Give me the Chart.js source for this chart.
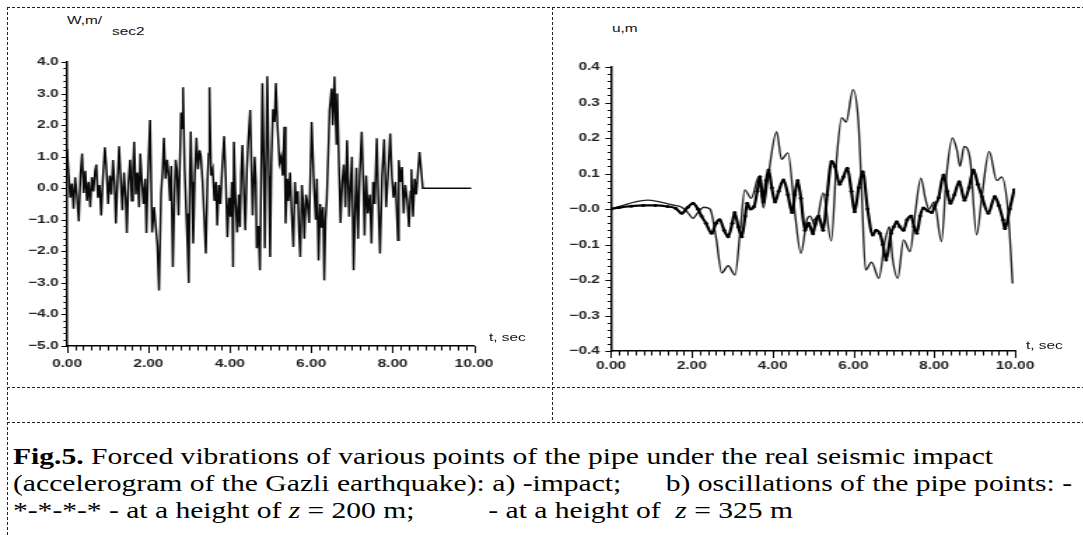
<!DOCTYPE html>
<html><head><meta charset="utf-8">
<script src="https://cdn.jsdelivr.net/npm/chart.js@4.4.1/dist/chart.umd.min.js"></script>
<style>
html,body{margin:0;padding:0;background:#fff;}
body{width:1083px;height:535px;position:relative;overflow:hidden;font-family:"Liberation Sans",Arial,sans-serif;}
.hl{position:absolute;height:1px;background:repeating-linear-gradient(to right,#222 0 3px,transparent 3px 5px);}
.vl{position:absolute;width:1px;background:repeating-linear-gradient(to bottom,#222 0 3px,transparent 3px 5px);}
.wrap{position:absolute;transform-origin:0 0;transform:scaleX(1.4);}
.wrap canvas{display:block;}
.lbl{position:absolute;transform-origin:0 0;transform:scaleX(1.4);white-space:nowrap;color:#111;font-size:11px;line-height:12px;}
.cap{position:absolute;left:13px;white-space:pre;font-family:"Liberation Serif","Times New Roman",serif;font-size:23px;line-height:27px;color:#000;transform-origin:0 0;}
</style></head>
<body>
<div class="hl" style="left:7px;top:7px;width:1076px;"></div>
<div class="hl" style="left:7px;top:387px;width:1076px;"></div>
<div class="hl" style="left:7px;top:422px;width:1076px;"></div>
<div class="vl" style="left:7px;top:7px;height:528px;"></div>
<div class="vl" style="left:552px;top:7px;height:415px;"></div>

<div class="wrap" style="left:0px;top:40px;"><canvas id="cl" width="389" height="340"></canvas></div>
<div class="wrap" style="left:553px;top:40px;"><canvas id="cr" width="375" height="340"></canvas></div>

<div class="lbl" style="left:67px;top:14px;">W,m/</div>
<div class="lbl" style="left:112px;top:25px;">sec2</div>
<div class="lbl" style="left:489px;top:331px;">t, sec</div>
<div class="lbl" style="left:612px;top:22px;">u,m</div>
<div class="lbl" style="left:1026px;top:339px;">t, sec</div>

<div class="cap" id="cap1" style="top:443px;"><b>Fig.5.</b> Forced vibrations of various points of the pipe under the real seismic impact</div>
<div class="cap" id="cap2" style="top:470px;">(accelerogram of the Gazli earthquake): a) -impact;      b) oscillations of the pipe points: -</div>
<div class="cap" id="cap3" style="top:497px;">*-*-*-* - at a height of <i>z</i> = 200 m;          - at a height of  <i>z</i> = 325 m</div>

<script>
// ---- data ----
// a) accelerogram of the Gazli earthquake: [t, W]
const accelerogram = [
[0.00,1.25],[0.04,0.45],[0.08,-0.30],[0.12,0.15],[0.16,-0.65],[0.20,0.35],[0.24,-0.20],[0.29,-1.05],
[0.33,0.40],[0.37,1.10],[0.41,-0.15],[0.45,0.55],[0.49,-0.40],[0.53,0.20],[0.57,-0.60],[0.61,0.35],
[0.65,-0.10],[0.69,0.55],[0.72,0.75],[0.76,-0.30],[0.80,0.10],[0.84,-0.86],[0.88,0.30],[0.93,1.30],
[0.97,0.60],[1.01,-0.50],[1.05,0.40],[1.09,-0.20],[1.13,0.89],[1.17,0.10],[1.20,-1.12],[1.24,0.20],
[1.28,1.33],[1.32,0.30],[1.36,-0.70],[1.40,0.50],[1.44,-0.30],[1.47,-1.42],[1.51,0.20],[1.55,0.90],
[1.59,-0.40],[1.62,0.60],[1.65,1.47],[1.69,-0.20],[1.73,0.50],[1.77,-0.60],[1.80,1.10],[1.84,0.20],
[1.88,-0.50],[1.92,0.30],[1.95,-1.42],[1.99,0.50],[2.04,2.16],[2.09,-1.40],[2.14,-0.60],[2.18,-1.20],
[2.22,-1.80],[2.26,-3.24],[2.31,-0.20],[2.35,0.60],[2.38,1.60],[2.42,0.30],[2.46,0.90],[2.49,0.50],
[2.53,-0.40],[2.56,0.70],[2.60,-2.50],[2.64,-0.20],[2.67,0.90],[2.70,0.60],[2.74,-0.86],[2.78,1.20],
[2.80,2.40],[2.83,1.90],[2.85,3.20],[2.89,0.60],[2.93,-0.80],[2.96,-1.80],[2.99,-3.00],[3.02,0.50],
[3.04,1.80],[3.07,0.20],[3.10,-1.75],[3.14,0.40],[3.18,1.60],[3.22,0.60],[3.26,1.20],[3.29,1.00],
[3.33,0.20],[3.37,-0.90],[3.41,-2.07],[3.45,0.20],[3.48,1.10],[3.50,3.20],[3.54,0.40],[3.58,0.60],
[3.62,-0.40],[3.66,0.20],[3.69,-1.18],[3.73,0.10],[3.77,-0.50],[3.81,0.60],[3.86,1.65],[3.90,0.30],
[3.94,-1.55],[3.98,-0.30],[4.02,-0.90],[4.05,0.20],[4.08,-2.50],[4.10,1.47],[4.14,-0.40],[4.18,-1.40],
[4.22,-0.20],[4.25,-1.23],[4.28,0.50],[4.31,1.37],[4.35,-0.30],[4.38,-1.33],[4.42,0.60],[4.45,1.44],
[4.50,2.48],[4.56,-0.86],[4.61,1.00],[4.64,0.20],[4.66,-1.90],[4.70,-1.20],[4.74,-2.60],[4.80,3.33],
[4.83,1.20],[4.86,-1.90],[4.92,3.55],[4.96,0.40],[4.99,-2.18],[5.02,0.80],[5.06,2.50],[5.10,2.10],
[5.13,3.33],[5.17,2.00],[5.22,0.80],[5.26,1.00],[5.30,0.40],[5.34,1.95],[5.37,-1.12],[5.41,0.30],
[5.44,-0.40],[5.48,0.50],[5.52,-0.80],[5.56,-1.86],[5.60,0.20],[5.63,-0.50],[5.67,-0.10],[5.70,-1.40],
[5.73,-2.18],[5.77,0.10],[5.80,-0.50],[5.83,-1.60],[5.87,-0.20],[5.90,-0.40],[5.95,-1.10],[6.01,2.10],
[6.07,0.00],[6.11,-1.00],[6.14,0.30],[6.18,-2.29],[6.22,-0.50],[6.25,-1.25],[6.29,-0.60],[6.32,-2.92],
[6.35,-1.00],[6.38,-0.40],[6.42,1.20],[6.45,2.48],[6.50,3.16],[6.53,2.00],[6.57,3.54],[6.60,2.20],
[6.62,1.40],[6.64,3.00],[6.68,0.80],[6.72,-1.10],[6.76,0.20],[6.80,0.75],[6.84,-0.60],[6.88,1.52],
[6.93,-0.90],[6.97,0.20],[7.00,1.00],[7.04,-2.60],[7.08,-0.60],[7.11,0.65],[7.15,-1.60],[7.19,0.40],
[7.24,1.79],[7.28,0.20],[7.31,-1.50],[7.35,0.40],[7.39,-0.80],[7.44,-0.20],[7.48,-1.75],[7.52,0.20],
[7.56,-0.50],[7.61,1.58],[7.66,-0.90],[7.69,-2.07],[7.74,0.40],[7.79,1.55],[7.84,-0.60],[7.89,0.50],
[7.94,1.73],[7.98,0.40],[8.02,-0.30],[8.07,0.20],[8.13,-1.65],[8.15,0.89],[8.19,0.20],[8.23,0.67],
[8.27,-0.80],[8.31,0.10],[8.36,-0.40],[8.40,-1.23],[8.44,-0.10],[8.46,0.60],[8.50,-0.90],[8.54,0.30],
[8.58,-0.20],[8.62,0.50],[8.66,1.15],[8.70,0.60],[8.74,0.00],[9.93,0.00]
];
// b) pipe point oscillations at z = 325 m (plain line): [t, u]
const pipe325 = [
[0.0,0.000],[0.3,0.010],[0.6,0.020],[0.9,0.025],[1.2,0.020],[1.5,0.012],[1.75,0.005],[1.9,-0.010],
[2.03,-0.026],[2.15,-0.010],[2.3,0.005],[2.45,0.000],[2.6,-0.080],[2.74,-0.180],[2.9,-0.160],[3.07,-0.186],
[3.2,-0.060],[3.31,0.054],[3.47,0.030],[3.66,0.091],[3.77,0.003],[3.9,0.100],[4.1,0.218],[4.22,0.140],
[4.38,0.158],[4.55,-0.010],[4.7,-0.125],[4.85,-0.030],[4.93,-0.020],[5.06,-0.050],[5.25,0.045],[5.45,-0.090],
[5.59,0.148],[5.71,0.257],[5.82,0.245],[5.99,0.336],[6.12,0.250],[6.2,0.063],[6.3,-0.172],[6.45,-0.150],
[6.63,-0.195],[6.78,-0.090],[6.89,-0.050],[6.97,-0.140],[7.1,-0.195],[7.24,-0.087],[7.4,-0.120],[7.53,-0.010],
[7.67,0.087],[7.78,0.030],[7.87,0.000],[8.0,0.020],[8.18,-0.092],[8.3,0.090],[8.45,0.200],[8.56,0.167],
[8.64,0.120],[8.74,0.176],[8.89,0.139],[9.05,-0.073],[9.18,0.035],[9.36,0.162],[9.55,0.080],[9.67,0.090],
[9.83,-0.010],[9.94,-0.210]
];
// b) pipe point oscillations at z = 200 m (*-*-*-* line): [t, u]
const pipe200 = [
[0.0,0.000],[0.2,0.004],[0.5,0.008],[0.8,0.010],[1.1,0.010],[1.4,0.007],[1.6,0.002],[1.75,-0.012],
[1.9,0.005],[2.03,0.016],[2.15,0.000],[2.24,-0.020],[2.35,-0.040],[2.49,-0.068],[2.6,-0.040],[2.69,-0.030],
[2.8,-0.060],[2.9,-0.078],[3.0,-0.040],[3.06,-0.010],[3.15,-0.050],[3.24,-0.078],[3.32,-0.020],[3.37,0.016],
[3.45,0.000],[3.54,0.007],[3.62,0.050],[3.69,0.091],[3.77,0.020],[3.84,0.080],[3.9,0.110],[3.98,0.060],
[4.06,0.020],[4.15,0.050],[4.27,0.082],[4.38,0.040],[4.48,-0.010],[4.55,0.040],[4.62,0.080],[4.7,0.030],
[4.8,-0.060],[4.89,-0.040],[5.0,-0.070],[5.07,-0.030],[5.14,-0.020],[5.25,-0.060],[5.35,0.040],[5.46,0.134],
[5.54,0.120],[5.66,0.070],[5.75,0.090],[5.85,0.115],[5.95,0.050],[6.03,-0.008],[6.13,0.060],[6.23,0.105],
[6.35,0.000],[6.48,-0.073],[6.56,-0.060],[6.65,-0.068],[6.73,-0.100],[6.81,-0.144],[6.93,-0.068],[7.0,-0.050],
[7.07,-0.036],[7.15,-0.050],[7.24,-0.060],[7.33,-0.030],[7.43,-0.020],[7.5,-0.050],[7.57,-0.068],[7.65,-0.020],
[7.73,0.003],[7.84,-0.005],[7.94,-0.010],[8.02,0.010],[8.11,0.032],[8.23,0.096],[8.32,0.050],[8.4,0.016],
[8.5,0.040],[8.62,0.077],[8.75,0.025],[8.86,0.060],[8.97,0.110],[9.08,0.070],[9.18,0.035],[9.34,-0.012],
[9.5,0.035],[9.6,0.010],[9.7,-0.030],[9.75,-0.055],[9.87,0.000],[9.98,0.054]
];
// tick labels
const timeTickLabels = ['0.00','2.00','4.00','6.00','8.00','10.00'];
const accTickLabels = ['\u22125.0','\u22124.0','\u22123.0','\u22122.0','\u22121.0','0.0','1.0','2.0','3.0','4.0'];
const dispTickLabels = ['\u22120.4','\u22120.3','\u22120.2','\u22120.1','\u22120.0','0.1','0.2','0.3','0.4'];

// ---- drawing ----
const minorTicks = {
  id:'minorTicks',
  afterDraw(chart, args, o){
    const ctx = chart.ctx, xs = chart.scales.x, ys = chart.scales.y;
    ctx.save(); ctx.strokeStyle = '#000'; ctx.lineWidth = 1;
    const nx = Math.round((xs.max - xs.min) / o.xStep);
    for (let i = 0; i <= nx; i++) {
      const px = Math.round(xs.getPixelForValue(xs.min + i * o.xStep)) + 0.5;
      const len = (i % o.xMajor === 0) ? 7 : 4.5;
      ctx.beginPath(); ctx.moveTo(px, xs.top); ctx.lineTo(px, xs.top + len); ctx.stroke();
    }
    const ny = Math.round((ys.max - ys.min) / o.yStep);
    for (let i = 0; i <= ny; i++) {
      const py = Math.round(ys.getPixelForValue(ys.min + i * o.yStep)) + 0.5;
      const len = (i % o.yMajor === 0) ? 4 : 2.5;
      ctx.beginPath(); ctx.moveTo(ys.right, py); ctx.lineTo(ys.right - len, py); ctx.stroke();
    }
    ctx.restore();
  }
};
const tickFont = {family:'"Liberation Sans", Arial, sans-serif', size:11, weight:'bold'};
function makeChart(id, datasets, yMin, yMax, yStep, yLabel, yWidth, pad, xHeight, yPad, xPad, minor){
  return new Chart(document.getElementById(id), {
    type:'line',
    data:{datasets},
    plugins:[minorTicks],
    options:{
      responsive:false, animation:false, devicePixelRatio:1,
      layout:{padding:pad},
      plugins:{legend:{display:false}, tooltip:{enabled:false}, minorTicks:minor},
      scales:{
        x:{type:'linear', min:0, max:10,
           grid:{display:false, drawTicks:false}, border:{display:true, color:'#000', width:1.5},
           ticks:{stepSize:2, autoSkip:false, maxRotation:0, padding:xPad, color:'#222', font:tickFont,
                  callback:(v)=>timeTickLabels[Math.round(v/2)]},
           afterFit:(s)=>{s.height = xHeight;}},
        y:{type:'linear', min:yMin, max:yMax,
           grid:{display:false, drawTicks:false}, border:{display:true, color:'#000', width:1.5},
           ticks:{stepSize:yStep, autoSkip:false, padding:yPad, color:'#222', font:tickFont,
                  callback:yLabel},
           afterFit:(s)=>{s.width = yWidth;}}
      }
    }
  });
}
function toXY(arr){ return arr.map(p=>({x:p[0], y:p[1]})); }

makeChart('cl',
  [{data:toXY(accelerogram), borderColor:'#0a0a0a', borderWidth:1.5, pointRadius:0, tension:0, fill:false}],
  -5, 4, 1, (v)=>accTickLabels[Math.round(v)+5], 47.86, {left:0, right:50.4, top:22, bottom:0}, 34, 6, 11,
  {xStep:0.2, xMajor:10, yStep:0.2, yMajor:5});

makeChart('cr',
  [{data:toXY(pipe200), borderColor:'#000', borderWidth:2.2, pointRadius:1.5, pointBackgroundColor:'#000',
    pointBorderWidth:0, cubicInterpolationMode:'monotone', fill:false},
   {data:toXY(pipe325), borderColor:'#222', borderWidth:1.4, pointRadius:0, cubicInterpolationMode:'monotone', fill:false}],
  -0.4, 0.4, 0.1, (v)=>dispTickLabels[Math.round(v*10)+4], 41.43, {left:0, right:45, top:27, bottom:0}, 29, 8, 8,
  {xStep:0.2, xMajor:10, yStep:0.02, yMajor:5});

// caption: each line stretched to the width it has in the reference
const captionWidths = {cap1:980, cap2:1059, cap3:780};
function fitCaption(){
  Object.keys(captionWidths).forEach(id=>{
    const el = document.getElementById(id);
    el.style.transform = 'none';
    const w = el.getBoundingClientRect().width;
    el.style.transform = 'scaleX(' + (captionWidths[id] / w) + ')';
  });
}
fitCaption();
if (document.fonts && document.fonts.ready) document.fonts.ready.then(fitCaption);
</script>
</body></html>
